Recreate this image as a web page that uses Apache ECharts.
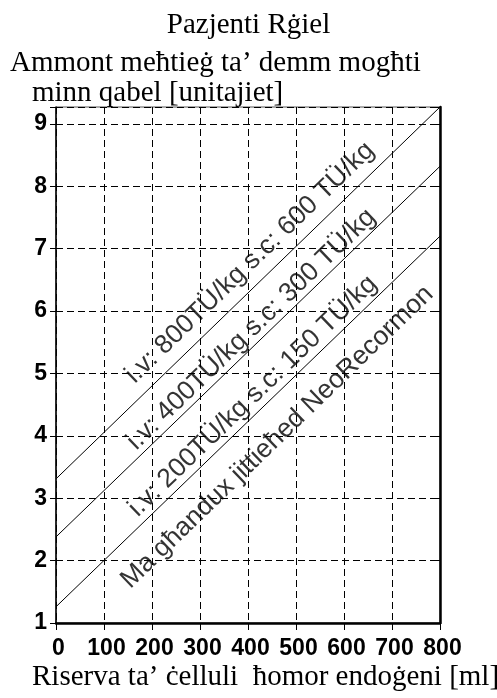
<!DOCTYPE html>
<html>
<head>
<meta charset="utf-8">
<script src="https://cdn.jsdelivr.net/npm/echarts@6/dist/echarts.min.js"></script>
<style>
  html, body { margin: 0; padding: 0; background: #fff; }
  #chart { width: 497px; height: 698px; }
</style>
</head>
<body>
<div id="chart"></div>
<script>
// endogene Erythrozytenreserve [ml] -> Ammont [unitajiet]
const xEnds = [0, 800];
const line800 = [3.31, 9.27];
const line400 = [2.38, 8.32];
const line200 = [1.26, 7.2];

const lineTexts = [
  "i.v: 800TÜ/kg s.c: 600 TÜ/kg",
  "i.v: 400TÜ/kg s.c: 300 TÜ/kg",
  "i.v: 200TÜ/kg s.c: 150 TÜ/kg",
  "Ma għandux jittieħed NeoRecormon"
];
// where each slanted text sits (data units)
const textAnchors = [[404, 6.775], [407, 5.705], [410, 4.635], [461, 3.98]];

const yTicks = [1, 2, 3, 4, 5, 6, 7, 8, 9];
const yMax = 9.27;

const serif = "'Liberation Serif', 'Times New Roman', serif";
const tickFont = "'Liberation Sans', Arial, sans-serif";

function pairs(ys) {
  return xEnds.map((x, i) => [x, ys[i]]);
}

function lineSeries(ys) {
  return {
    type: "line",
    data: pairs(ys),
    showSymbol: false,
    symbol: "none",
    silent: true,
    lineStyle: { color: "#000", width: 1 },
    z: 3
  };
}

const titleStyle = { fontFamily: serif, fontSize: 29, fontWeight: "normal", color: "#000" };

let myChart = echarts.init(document.getElementById("chart"));
let option = {
  animation: false,
  backgroundColor: "#fff",
  title: [
    { text: "Pazjenti Rġiel", left: "center", top: 11, padding: 0, textStyle: titleStyle },
    { text: "Ammont meħtieġ ta’ demm mogħti", left: 10, top: 49, padding: 0, textStyle: titleStyle },
    { text: "minn qabel [unitajiet]", left: 32, top: 79, padding: 0, textStyle: titleStyle },
    { text: "Riserva ta’ ċelluli  ħomor endoġeni [ml]", left: 32, top: 663, padding: 0, textStyle: titleStyle }
  ],
  grid: {
    left: 56,
    right: 57,
    top: 107,
    bottom: 75,
    show: true,
    borderColor: "#555",
    borderWidth: 1,
    containLabel: false
  },
  xAxis: {
    type: "value",
    min: 0,
    max: 800,
    interval: 100,
    axisLine: { show: true, lineStyle: { color: "#000", width: 2.5 } },
    axisTick: { show: true, length: 7, lineStyle: { color: "#000", width: 1 } },
    axisLabel: {
      margin: 14,
      padding: [0, 0, 0, 5],
      color: "#000",
      fontFamily: tickFont,
      fontWeight: "bold",
      fontSize: 23
    },
    splitLine: { show: true, lineStyle: { color: "#000", width: 1, type: [7, 4] } }
  },
  yAxis: [
    {
      type: "value",
      min: 1,
      max: yMax,
      interval: 1,
      axisLine: { show: true, lineStyle: { color: "#000", width: 1.5 } },
      axisTick: { show: true, length: 6, lineStyle: { color: "#000", width: 1 } },
      axisLabel: {
        margin: 9,
        color: "#000",
        fontFamily: tickFont,
        fontWeight: "bold",
        fontSize: 23,
        formatter: v => (yTicks.indexOf(v) >= 0 ? String(v) : "")
      },
      splitLine: { show: true, lineStyle: { color: "#000", width: 1, type: [7, 4] } }
    },
    {
      type: "value",
      position: "right",
      min: 1,
      max: yMax,
      interval: 1,
      axisLine: { show: true, lineStyle: { color: "#000", width: 2.5 } },
      axisTick: { show: true, inside: true, length: 6, lineStyle: { color: "#000", width: 1 } },
      axisLabel: { show: false },
      splitLine: { show: false }
    }
  ],
  series: [
    lineSeries(line800),
    lineSeries(line400),
    lineSeries(line200),
    {
      type: "scatter",
      symbolSize: 0,
      silent: true,
      z: 4,
      data: textAnchors.map((p, i) => ({ value: p, name: lineTexts[i] })),
      label: {
        show: true,
        position: "inside",
        formatter: p => p.name,
        rotate: 44,
        align: "center",
        verticalAlign: "middle",
        color: "#000",
        fontFamily: "'Liberation Sans', Arial, sans-serif",
        fontSize: 26.5
      }
    }
  ]
};

myChart.setOption(option);
</script>
</body>
</html>
